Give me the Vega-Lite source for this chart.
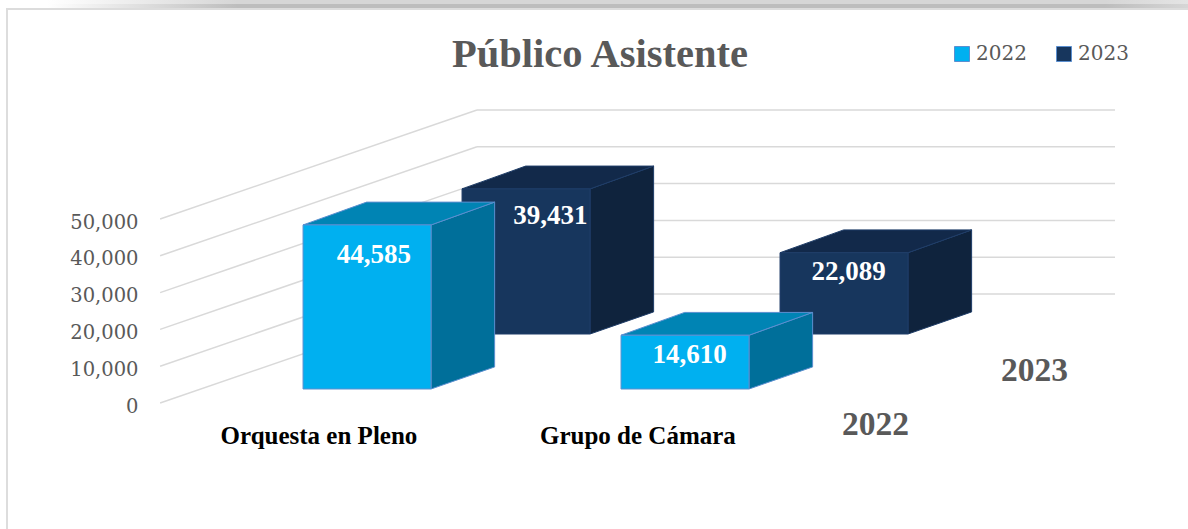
{
"$schema":"https://vega.github.io/schema/vega-lite/v6.json",
"width":1188,"height":529,"padding":0,"autosize":{"type":"none"},
"background":"white",
"view":{"stroke":null},
"title":{"text":"Público Asistente","font":"Liberation Serif","fontSize":40.5,"fontWeight":"bold","color":"#595959","anchor":"middle","frame":"group","dx":6,"offset":-75},
"datasets":{
"publico":[
{"categoria":"Orquesta en Pleno","serie":"2022","valor":44585},
{"categoria":"Orquesta en Pleno","serie":"2023","valor":39431},
{"categoria":"Grupo de Cámara","serie":"2022","valor":14610},
{"categoria":"Grupo de Cámara","serie":"2023","valor":22089}],
"niveles":[{"nivel":0},{"nivel":10000},{"nivel":20000},{"nivel":30000},{"nivel":40000},{"nivel":50000}],
"series":[{"serie":"2022"},{"serie":"2023"}],
"categorias":[{"categoria":"Orquesta en Pleno"},{"categoria":"Grupo de Cámara"}],
"marco":[{"parte":"marco"}]
},
"data":{"name":"publico"},
"transform":[
{"calculate":"datum.categoria=='Orquesta en Pleno'?0:1","as":"cat"},
{"calculate":"datum.serie=='2022'?0:1","as":"ser"},
{"calculate":"2*datum.cat+datum.ser","as":"x0"},
{"calculate":"datum.x0+0.805","as":"x1"},
{"calculate":"3804+datum.ser*14946","as":"base"},
{"calculate":"datum.base+datum.valor","as":"tope"},
{"calculate":"[0,1]","as":"k"}
],
"layer":[
{"data":{"name":"marco"},"mark":{"type":"rect","color":{"gradient":"linear","x1":0,"y1":0,"x2":1,"y2":0,"stops":[{"offset":0.04,"color":"#ffffff"},{"offset":0.2,"color":"#d6d6d6"},{"offset":0.93,"color":"#d6d6d6"},{"offset":1,"color":"#e4e4e4"}]}},
"encoding":{"x":{"datum":-1.906,"type":"quantitative","axis":null,"title":null,"scale":{"domain":[-1.906,5.566],"nice":false,"zero":false}},"x2":{"datum":5.566},
"y":{"datum":109511,"type":"quantitative","scale":{"domain":[-34239,109511],"nice":false,"zero":false},"axis":{"values":[0,10000,20000,30000,40000,50000],"labelExpr":"format(datum.value,',')","title":null,"domain":false,"ticks":false,"grid":false,"labelFont":"DejaVu Serif","labelFontSize":19.5,"labelColor":"#595959","labelPadding":0,"offset":-138,"labelOffset":3}},"y2":{"datum":108424}}},
{"data":{"name":"marco"},"mark":{"type":"rect","color":{"gradient":"linear","x1":0,"y1":0,"x2":1,"y2":0,"stops":[{"offset":0.04,"color":"#ffffff"},{"offset":0.2,"color":"#bdbdbd"},{"offset":0.93,"color":"#bdbdbd"},{"offset":1,"color":"#d6d6d6"}]}},
"encoding":{"x":{"datum":-1.906,"type":"quantitative"},"x2":{"datum":5.566},"y":{"datum":108424,"type":"quantitative"},"y2":{"datum":107337}}},
{"data":{"name":"marco"},"mark":{"type":"rect","color":"#dcdcdc"},
"encoding":{"x":{"datum":-1.868,"type":"quantitative"},"x2":{"datum":5.566},"y":{"datum":107337,"type":"quantitative"},"y2":{"datum":106793}}},
{"data":{"name":"marco"},"mark":{"type":"rect","color":"#dcdcdc"},
"encoding":{"x":{"datum":-1.868,"type":"quantitative"},"x2":{"datum":-1.856},"y":{"datum":107337,"type":"quantitative"},"y2":{"datum":-34239}}},
{"data":{"name":"niveles"},"transform":[{"calculate":"datum.nivel+29620","as":"fondo"},{"calculate":"-0.899","as":"xa"},{"calculate":"1.094","as":"xb"}],
"mark":{"type":"rule","color":"#d9d9d9","strokeWidth":1.5},
"encoding":{"x":{"field":"xa","type":"quantitative"},"x2":{"field":"xb"},"y":{"field":"nivel","type":"quantitative"},"y2":{"field":"fondo"}}},
{"data":{"name":"niveles"},"transform":[{"calculate":"datum.nivel+29620","as":"fondo"},{"calculate":"1.094","as":"xb"},{"calculate":"5.107","as":"xc"}],
"mark":{"type":"rule","color":"#d9d9d9","strokeWidth":1.5},
"encoding":{"x":{"field":"xb","type":"quantitative"},"x2":{"field":"xc"},"y":{"field":"fondo","type":"quantitative"}}},

{"transform":[{"filter":"datum.ser==1"},{"flatten":["k"]},{"calculate":"datum.x1+datum.k*0.4","as":"xp"},{"calculate":"datum.tope+datum.k*6200","as":"yt"},{"calculate":"datum.base+datum.k*6000","as":"yb"}],
"mark":{"type":"area","color":"#0f233d","stroke":"#1f3d68","strokeWidth":1},
"encoding":{"x":{"field":"xp","type":"quantitative"},"y":{"field":"yt","type":"quantitative","stack":null},"y2":{"field":"yb"},"detail":{"field":"categoria"}}},
{"transform":[{"filter":"datum.ser==1"},{"flatten":["k"]},{"calculate":"datum.x0+datum.k*0.4","as":"xa"},{"calculate":"datum.x1+datum.k*0.4","as":"xb"},{"calculate":"datum.tope+datum.k*6200","as":"yp"}],
"mark":{"type":"area","orient":"horizontal","color":"#12294a","stroke":"#1f3d68","strokeWidth":1},
"encoding":{"y":{"field":"yp","type":"quantitative"},"x":{"field":"xa","type":"quantitative","stack":null},"x2":{"field":"xb"},"detail":{"field":"categoria"}}},
{"transform":[{"filter":"datum.ser==1"}],
"mark":{"type":"rect","stroke":"#1f3d68","strokeWidth":1},
"encoding":{"x":{"field":"x0","type":"quantitative"},"x2":{"field":"x1"},"y":{"field":"base","type":"quantitative"},"y2":{"field":"tope"},
"fill":{"field":"serie","type":"nominal","scale":{"domain":["2022","2023"],"range":["#00b0f0","#17365d"]},
"legend":{"title":null,"orient":"none","legendX":952,"legendY":44,"direction":"horizontal","symbolType":"square","symbolSize":225,"symbolStrokeColor":"#5b8fd0","symbolStrokeWidth":1,"labelFont":"DejaVu Serif","labelFontSize":20,"labelColor":"#595959","labelOffset":4,"columnPadding":27,"symbolOpacity":1}}}},

{"transform":[{"filter":"datum.ser==0"},{"flatten":["k"]},{"calculate":"datum.x1+datum.k*0.4","as":"xp"},{"calculate":"datum.tope+datum.k*6200","as":"yt"},{"calculate":"datum.base+datum.k*6000","as":"yb"}],
"mark":{"type":"area","color":"#006f9a","stroke":"#5b8fd0","strokeWidth":1},
"encoding":{"x":{"field":"xp","type":"quantitative"},"y":{"field":"yt","type":"quantitative","stack":null},"y2":{"field":"yb"},"detail":{"field":"categoria"}}},
{"transform":[{"filter":"datum.ser==0"},{"flatten":["k"]},{"calculate":"datum.x0+datum.k*0.4","as":"xa"},{"calculate":"datum.x1+datum.k*0.4","as":"xb"},{"calculate":"datum.tope+datum.k*6200","as":"yp"}],
"mark":{"type":"area","orient":"horizontal","color":"#0084b4","stroke":"#5b8fd0","strokeWidth":1},
"encoding":{"y":{"field":"yp","type":"quantitative"},"x":{"field":"xa","type":"quantitative","stack":null},"x2":{"field":"xb"},"detail":{"field":"categoria"}}},
{"transform":[{"filter":"datum.ser==0"}],
"mark":{"type":"rect","stroke":"#5b8fd0","strokeWidth":1},
"encoding":{"x":{"field":"x0","type":"quantitative"},"x2":{"field":"x1"},"y":{"field":"base","type":"quantitative"},"y2":{"field":"tope"},
"fill":{"field":"serie","type":"nominal"}}},

{"transform":[{"calculate":"datum.x0+0.406+(datum.valor==39431?0.15:datum.valor==44585?0.04:0.025)","as":"xt"},{"calculate":"datum.tope-(15+0.0003*datum.valor+(datum.valor==44585?1.5:datum.valor==14610?0.5:datum.valor==22089?-2:0))/0.00368","as":"yt"}],
"mark":{"type":"text","font":"Liberation Serif","fontWeight":"bold","fontSize":27,"color":"white","baseline":"middle","align":"center"},
"encoding":{"x":{"field":"xt","type":"quantitative"},"y":{"field":"yt","type":"quantitative"},"text":{"field":"valor","type":"quantitative","format":","}}},

{"data":{"name":"categorias"},"transform":[{"calculate":"datum.categoria=='Orquesta en Pleno'?0.1:2.106","as":"xt"},{"calculate":"-8970","as":"yt"}],
"mark":{"type":"text","font":"Liberation Serif","fontWeight":"bold","fontSize":25,"color":"#000000","baseline":"middle","align":"center"},
"encoding":{"x":{"field":"xt","type":"quantitative"},"y":{"field":"yt","type":"quantitative"},"text":{"field":"categoria"}}},
{"data":{"name":"series"},"transform":[{"calculate":"datum.serie=='2022'?3.6:4.6","as":"xt"},{"calculate":"datum.serie=='2022'?-5978:8700","as":"yt"}],
"mark":{"type":"text","font":"Liberation Serif","fontWeight":"bold","fontSize":33.5,"color":"#595959","baseline":"middle","align":"center"},
"encoding":{"x":{"field":"xt","type":"quantitative"},"y":{"field":"yt","type":"quantitative"},"text":{"field":"serie"}}}
]
}
